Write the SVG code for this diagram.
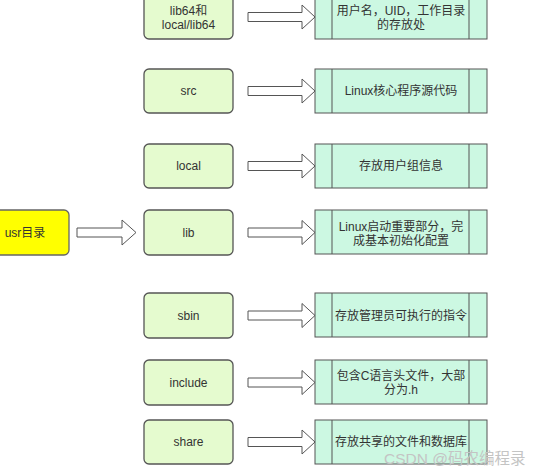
<svg xmlns="http://www.w3.org/2000/svg" width="540" height="475" viewBox="0 0 540 475">
<style>
.bg{fill:#ffffff}
.src{fill:#e5fbcf;stroke:#555555;stroke-width:1.3}
.root{fill:#ffff00;stroke:#666666;stroke-width:1.3}
.dst{fill:#ccf8e2;stroke:#555555;stroke-width:1}
.arr{fill:#ffffff;stroke:#555555;stroke-width:1}
text{font-family:"Liberation Sans","Noto Sans CJK SC",sans-serif;font-size:12px;fill:#333333;text-anchor:middle}
.wm{font-size:15.5px;fill:#c4c4c4;text-anchor:start}
</style>
<defs>
<symbol id="dbox" overflow="visible">
<rect class="dst" x="0" y="0" width="172" height="44"/>
<line x1="17" y1="0" x2="17" y2="44" stroke="#555555" stroke-width="1"/>
<line x1="154" y1="0" x2="154" y2="44" stroke="#555555" stroke-width="1"/>
</symbol>
</defs>
<rect class="bg" x="0" y="0" width="540" height="475"/>

<g id="connectors">
<polygon class="arr" points="77,228 122,228 122,220 136,232.5 122,245 122,237 77,237"/>
<polygon class="arr" points="248,12.5 302,12.5 302,5 315,17 302,29 302,21.5 248,21.5"/>
<polygon class="arr" points="248,86.5 302,86.5 302,79 315,91 302,103 302,95.5 248,95.5"/>
<polygon class="arr" points="248,161.5 302,161.5 302,154 315,166 302,178 302,170.5 248,170.5"/>
<polygon class="arr" points="248,228 302,228 302,220.5 315,232.5 302,244.5 302,237 248,237"/>
<polygon class="arr" points="248,311 302,311 302,303.5 315,315.5 302,327.5 302,320 248,320"/>
<polygon class="arr" points="248,378 302,378 302,370.5 315,382.5 302,394.5 302,387 248,387"/>
<polygon class="arr" points="248,437.5 302,437.5 302,430 315,442 302,454 302,446.5 248,446.5"/>
</g>

<g id="usr">
<rect class="root" x="-20" y="210" width="89" height="45" rx="5"/>
<text x="25" y="237">usr目录</text>
</g>

<g id="lib64">
<rect class="src" x="144" y="-6" width="89" height="45" rx="5"/>
<text x="188.5" y="14.5">lib64和</text>
<text x="188.5" y="28.5">local/lib64</text>
</g>
<g id="src">
<rect class="src" x="144" y="69" width="89" height="44" rx="5"/>
<text x="188.5" y="95">src</text>
</g>
<g id="local">
<rect class="src" x="144" y="144" width="89" height="44" rx="5"/>
<text x="188.5" y="170">local</text>
</g>
<g id="lib">
<rect class="src" x="144" y="210" width="89" height="45" rx="5"/>
<text x="188.5" y="236.5">lib</text>
</g>
<g id="sbin">
<rect class="src" x="144" y="293" width="89" height="45" rx="5"/>
<text x="188.5" y="319.5">sbin</text>
</g>
<g id="include">
<rect class="src" x="144" y="360" width="89" height="45" rx="5"/>
<text x="188.5" y="386.5">include</text>
</g>
<g id="share">
<rect class="src" x="144" y="420" width="89" height="44" rx="5"/>
<text x="188.5" y="446">share</text>
</g>

<g id="d-lib64">
<use href="#dbox" x="315" y="-5"/>
<text x="401" y="15">用户名，UID，工作目录</text>
<text x="401" y="29">的存放处</text>
</g>
<g id="d-src">
<use href="#dbox" x="315" y="69"/>
<text x="401" y="95">Linux核心程序源代码</text>
</g>
<g id="d-local">
<use href="#dbox" x="315" y="144"/>
<text x="401" y="170">存放用户组信息</text>
</g>
<g id="d-lib">
<use href="#dbox" x="315" y="210"/>
<text x="401" y="231">Linux启动重要部分，完</text>
<text x="401" y="245">成基本初始化配置</text>
</g>
<g id="d-sbin">
<use href="#dbox" x="315" y="293"/>
<text x="401" y="319.5">存放管理员可执行的指令</text>
</g>
<g id="d-include">
<use href="#dbox" x="315" y="360"/>
<text x="401" y="380">包含C语言头文件，大部</text>
<text x="401" y="394">分为.h</text>
</g>
<g id="d-share">
<use href="#dbox" x="315" y="420"/>
<text x="401" y="446">存放共享的文件和数据库</text>
</g>

<text class="wm" x="384" y="464">CSDN @码农编程录</text>
</svg>
